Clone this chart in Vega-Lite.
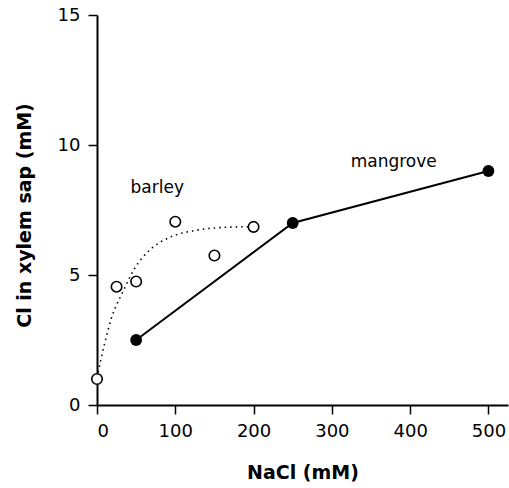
{
  "$schema": "https://vega.github.io/schema/vega-lite/v6.json",
  "width": 411,
  "height": 390,
  "autosize": {"type": "none"},
  "padding": {"left": 97, "top": 15, "right": 1, "bottom": 83},
  "background": "white",
  "config": {
    "view": {"stroke": null},
    "font": "DejaVu Sans",
    "axis": {
      "domainColor": "black",
      "domainWidth": 2,
      "tickColor": "black",
      "tickWidth": 1.5,
      "tickSize": 9,
      "grid": false,
      "labelFont": "DejaVu Sans",
      "labelFontSize": 18,
      "labelColor": "black",
      "titleFont": "DejaVu Sans",
      "titleFontSize": 19,
      "titleFontWeight": "bold",
      "titleColor": "black"
    }
  },
  "datasets": {
    "barley": [
      {"nacl": 0, "cl": 1.0},
      {"nacl": 25, "cl": 4.55},
      {"nacl": 50, "cl": 4.75},
      {"nacl": 100, "cl": 7.05},
      {"nacl": 150, "cl": 5.75},
      {"nacl": 200, "cl": 6.85}
    ],
    "fit": [
      {"nacl": 0, "cl": 1.05},
      {"nacl": 10, "cl": 2.4},
      {"nacl": 18, "cl": 3.3},
      {"nacl": 33, "cl": 4.35},
      {"nacl": 48, "cl": 5.25},
      {"nacl": 67, "cl": 5.95},
      {"nacl": 93, "cl": 6.45},
      {"nacl": 127, "cl": 6.72},
      {"nacl": 169, "cl": 6.84},
      {"nacl": 200, "cl": 6.86}
    ],
    "mangrove": [
      {"nacl": 50, "cl": 2.5},
      {"nacl": 250, "cl": 7.0},
      {"nacl": 500, "cl": 9.0}
    ],
    "labels": [
      {"nacl": 77, "cl": 8.17, "text": "barley"},
      {"nacl": 379, "cl": 9.15, "text": "mangrove"}
    ]
  },
  "layer": [
    {
      "mark": {"type": "rule", "color": "black", "strokeWidth": 2},
      "encoding": {"y": {"datum": 15, "type": "quantitative"}}
    },
    {
      "data": {"name": "fit"},
      "mark": {"type": "line", "interpolate": "monotone", "color": "black", "strokeWidth": 1.6, "strokeDash": [1.5, 4]},
      "encoding": {
        "x": {"field": "nacl", "type": "quantitative", "scale": {"domain": [0, 525], "nice": false}, "axis": {"values": [0, 100, 200, 300, 400, 500], "title": "NaCl  (mM)", "labelPadding": 8, "titleBaseline": "alphabetic", "titleY": 73}},
        "y": {"field": "cl", "type": "quantitative", "scale": {"domain": [0, 15], "nice": false}, "axis": {"values": [0, 5, 10, 15], "title": "Cl in xylem sap (mM)", "labelPadding": 8, "titleAngle": -90, "titleX": -73, "titleY": 200, "titleAlign": "center", "titleBaseline": "middle"}}
      }
    },
    {
      "data": {"name": "mangrove"},
      "mark": {"type": "line", "color": "black", "strokeWidth": 2},
      "encoding": {
        "x": {"field": "nacl", "type": "quantitative"},
        "y": {"field": "cl", "type": "quantitative"}
      }
    },
    {
      "data": {"name": "mangrove"},
      "mark": {"type": "point", "shape": "circle", "filled": true, "color": "black", "size": 140, "opacity": 1},
      "encoding": {
        "x": {"field": "nacl", "type": "quantitative"},
        "y": {"field": "cl", "type": "quantitative"}
      }
    },
    {
      "data": {"name": "barley"},
      "mark": {"type": "point", "shape": "circle", "filled": true, "fill": "white", "stroke": "black", "strokeWidth": 1.6, "size": 110, "opacity": 1},
      "encoding": {
        "x": {"field": "nacl", "type": "quantitative"},
        "y": {"field": "cl", "type": "quantitative"}
      }
    },
    {
      "data": {"name": "labels"},
      "mark": {"type": "text", "font": "DejaVu Sans", "fontSize": 17, "color": "black", "align": "center", "baseline": "alphabetic"},
      "encoding": {
        "x": {"field": "nacl", "type": "quantitative"},
        "y": {"field": "cl", "type": "quantitative"},
        "text": {"field": "text"}
      }
    }
  ]
}
